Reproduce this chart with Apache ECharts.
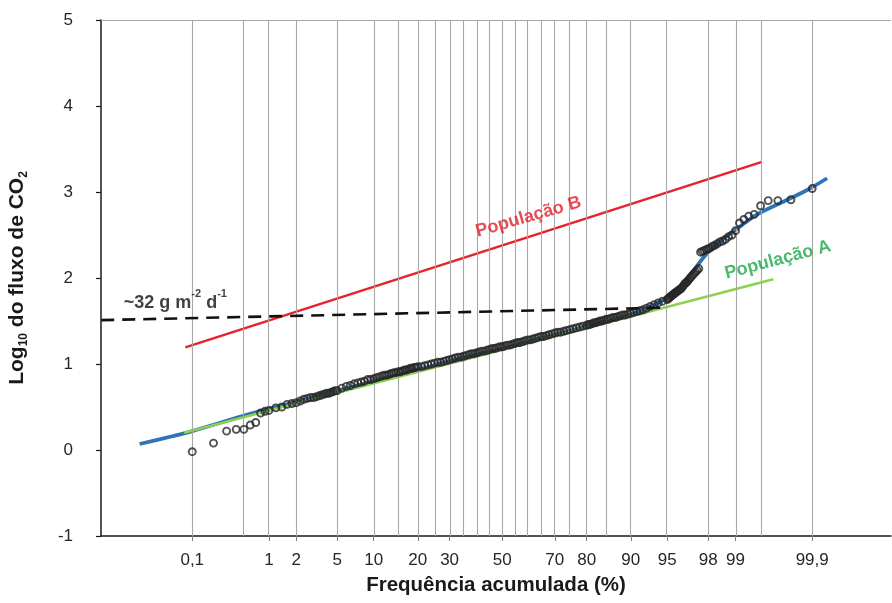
<!DOCTYPE html>
<html><head><meta charset="utf-8">
<script src="https://cdn.jsdelivr.net/npm/echarts@6/dist/echarts.min.js"></script>
<style>html,body{margin:0;padding:0;background:#fff}#c{width:892px;height:603px}</style>
</head><body><div id="c"></div>
<script>
// ---- data ----
const tickPct = [0.1,1,2,5,10,20,30,50,70,80,90,95,98,99,99.9];
const tickText = ['0,1','1','2','5','10','20','30','50','70','80','90','95','98','99','99,9'];
const gridPct = [0.1,0.5,1,2,5,10,15,20,25,30,35,40,45,50,55,60,65,70,75,80,85,90,95,98,99,99.5,99.9];

const obsPct = [
 0.1,0.2,0.3,0.4,0.5,0.6,0.7,0.8,0.9,1.0,
 1.2,1.4,1.6,1.8,2.0,2.2,2.4,2.6,2.8,3.0,3.2,3.4,3.6,3.8,4.0,4.2,4.4,4.6,4.8,5.0,
 5.5,6,6.5,7,7.5,8,8.5,9,9.5,10,10.5,11,11.5,12,12.5,13,13.5,14,14.5,15,15.5,16,16.5,17,17.5,18,18.5,19,19.5,20,
 21,22,23,24,25,26,27,28,29,30,31,32,33,34,35,36,37,38,39,40,
 41,42,43,44,45,46,47,48,49,50,51,52,53,54,55,56,57,58,59,60,
 61,62,63,64,65,66,67,68,69,70,71,72,73,74,75,76,77,78,79,80,
 80.5,81,81.5,82,82.5,83,83.5,84,84.5,85,85.5,86,86.5,87,87.5,88,88.5,89,89.5,90,
 90.5,91,91.5,92,92.5,93,93.5,94,94.5,95,
 95.1,95.2,95.3,95.4,95.5,95.6,95.7,95.8,95.9,96.0,
 96.1,96.2,96.3,96.4,96.5,96.6,96.7,96.8,96.9,97.0,
 97.1,97.2,97.3,97.4,97.5,97.6,97.7,97.8,97.9,98.0,
 98.1,98.2,98.3,98.4,98.5,98.6,98.7,98.8,98.9,99.0,
 99.1,99.2,99.3,99.4,99.5,99.6,99.7,99.8,99.9
];
const obsLog = [
 -0.02,0.08,0.22,0.24,0.24,0.29,0.32,0.43,0.45,0.46,
 0.49,0.50,0.53,0.54,0.55,0.57,0.59,0.60,0.61,0.61,0.62,0.63,0.64,0.65,0.66,0.66,0.67,0.68,0.69,0.69,
 0.72,0.74,0.75,0.77,0.78,0.79,0.80,0.82,0.82,0.83,0.84,0.85,0.86,0.87,0.87,0.88,0.89,0.90,0.90,0.91,0.91,0.92,0.93,0.93,0.94,0.95,0.95,0.96,0.96,0.97,
 0.97,0.98,0.99,1.00,1.01,1.02,1.02,1.03,1.04,1.05,1.06,1.07,1.08,1.08,1.09,1.10,1.11,1.12,1.12,1.13,
 1.14,1.15,1.15,1.16,1.17,1.18,1.18,1.19,1.20,1.20,1.21,1.22,1.22,1.23,1.24,1.25,1.25,1.26,1.27,1.28,
 1.28,1.29,1.30,1.31,1.32,1.32,1.33,1.34,1.35,1.36,1.37,1.37,1.38,1.39,1.40,1.41,1.42,1.43,1.44,1.45,
 1.46,1.46,1.47,1.48,1.48,1.49,1.50,1.50,1.51,1.52,1.52,1.53,1.54,1.54,1.55,1.56,1.57,1.57,1.58,1.59,
 1.60,1.61,1.62,1.63,1.65,1.67,1.69,1.71,1.73,1.75,
 1.76,1.77,1.78,1.79,1.80,1.81,1.82,1.83,1.84,1.85,
 1.86,1.87,1.88,1.90,1.92,1.94,1.95,1.97,1.99,2.01,
 2.03,2.05,2.07,2.09,2.11,2.30,2.31,2.32,2.33,2.34,
 2.35,2.37,2.38,2.40,2.42,2.43,2.45,2.48,2.50,2.55,
 2.64,2.68,2.72,2.74,2.84,2.90,2.90,2.91,3.04
];

const fitPct = [0.015,0.05,0.1,0.6,2,10,30,50,70,80,90,92,94,95,96,96.7,97.5,98.2,99,99.45,99.75,99.88,99.94];
const fitLog = [0.07,0.16,0.22,0.42,0.56,0.80,1.03,1.18,1.34,1.44,1.575,1.63,1.71,1.77,1.86,1.96,2.17,2.35,2.56,2.74,2.89,3.02,3.16];

const popAPct = [0.076, 99.656];
const popALog = [0.20, 1.985];
const popBPct = [0.079, 99.52];
const popBLog = [1.194, 3.35];
const refPct = [0.0032, 94.5];
const refLog = [1.51, 1.655];

// ---- probability scale (normal quantile) ----
function probit(p){
 const a=[-3.969683028665376e+01,2.209460984245205e+02,-2.759285104469687e+02,1.383577518672690e+02,-3.066479806614716e+01,2.506628277459239e+00];
 const b=[-5.447609879822406e+01,1.615858368580409e+02,-1.556989798598866e+02,6.680131188771972e+01,-1.328068155288572e+01];
 const c=[-7.784894002430293e-03,-3.223964580411365e-01,-2.400758277161838e+00,-2.549732539343734e+00,4.374664141464968e+00,2.938163982698783e+00];
 const d=[7.784695709041462e-03,3.224671290700398e-01,2.445134137142996e+00,3.754408661907416e+00];
 const pl=0.02425, ph=1-pl; let q,r;
 if(p<pl){q=Math.sqrt(-2*Math.log(p));return (((((c[0]*q+c[1])*q+c[2])*q+c[3])*q+c[4])*q+c[5])/((((d[0]*q+d[1])*q+d[2])*q+d[3])*q+1);}
 if(p<=ph){q=p-0.5;r=q*q;return (((((a[0]*r+a[1])*r+a[2])*r+a[3])*r+a[4])*r+a[5])*q/(((((b[0]*r+b[1])*r+b[2])*r+b[3])*r+b[4])*r+1);}
 q=Math.sqrt(-2*Math.log(1-p));return -(((((c[0]*q+c[1])*q+c[2])*q+c[3])*q+c[4])*q+c[5])/((((d[0]*q+d[1])*q+d[2])*q+d[3])*q+1);
}
const zp = pct => probit(pct/100);
const zip = (P,V) => P.map((p,i)=>[zp(p), V[i]]);

const FONT = "'Liberation Sans', Arial, sans-serif";
const tickZ = tickPct.map(zp);
function labelFor(v){
  let best=0, bd=1e9;
  tickZ.forEach((z,i)=>{const d=Math.abs(z-v); if(d<bd){bd=d;best=i;}});
  return tickText[best];
}

const chart = echarts.init(document.getElementById('c'), null, {renderer:'canvas'});
chart.setOption({
  animation:false,
  backgroundColor:'#fff',
  textStyle:{fontFamily:FONT},
  grid:{left:101, right:1, top:20, bottom:67, containLabel:false, outerBoundsMode:'none'},
  xAxis:{
    type:'value', min:-4, max:3.876,
    axisLine:{show:true, onZero:false, lineStyle:{color:'#1a1a1a', width:1.5}},
    axisTick:{show:true, customValues:tickZ, length:5, lineStyle:{color:'#7f7f7f'}},
    axisLabel:{customValues:tickZ, formatter:v=>labelFor(v), color:'#262626', fontSize:17, margin:16, fontFamily:FONT},
    splitLine:{show:false},
    name:'Frequência acumulada (%)', nameLocation:'middle', nameGap:39,
    nameTextStyle:{fontWeight:'bold', fontSize:20.5, color:'#1a1a1a', fontFamily:FONT}
  },
  yAxis:{
    type:'value', min:-1, max:5, interval:1,
    axisLine:{show:true, onZero:false, lineStyle:{color:'#1a1a1a', width:1.5}},
    axisTick:{show:true, length:5, lineStyle:{color:'#1a1a1a', width:1.2}},
    axisLabel:{fontSize:17, margin:28, color:'#262626', fontFamily:FONT},
    splitLine:{show:false},
    name:'{a|Log}{s|10}{a| do fluxo de CO}{s|2}', nameLocation:'middle', nameGap:70, nameRotate:90,
    nameTextStyle:{
      rich:{
        a:{fontSize:21, fontWeight:'bold', color:'#1a1a1a', fontFamily:FONT, lineHeight:24, verticalAlign:'top'},
        s:{fontSize:12, fontWeight:'bold', color:'#1a1a1a', fontFamily:FONT, lineHeight:13, padding:[11,0,0,0], verticalAlign:'top'}
      }
    }
  },
  series:[
    {type:'scatter', data:[], silent:true, z:1,
     markLine:{silent:true, symbol:['none','none'], animation:false, label:{show:false},
       lineStyle:{color:'#a8a8a8', width:1.1, type:'solid'},
       data: gridPct.map(p=>({xAxis:zp(p)})).concat([{yAxis:5}])}
    },
    {type:'line', name:'ajuste', data:zip(fitPct,fitLog), smooth:0.35, showSymbol:false, silent:true, z:3,
     lineStyle:{color:'#2e75b6', width:3.8}},
    {type:'line', name:'População A', data:zip(popAPct,popALog), showSymbol:false, silent:true, z:4,
     lineStyle:{color:'#8fd14f', width:2.5}},
    {type:'line', name:'População B', data:zip(popBPct,popBLog), showSymbol:false, silent:true, z:4,
     lineStyle:{color:'#e8222a', width:2.5}},
    {type:'scatter', name:'obs', data:zip(obsPct,obsLog), symbol:'circle', symbolSize:7, silent:true, z:5,
     itemStyle:{color:'rgba(255,255,255,0)', borderColor:'#262626', borderWidth:1.9}},
    {type:'line', name:'ref', data:zip(refPct,refLog), showSymbol:false, silent:true, z:6, clip:false,
     lineStyle:{color:'#111', width:2.6, type:[13,8]}},
    {type:'scatter', data:[[zp(60.3),2.71]], symbolSize:0, silent:true, z:7,
     label:{show:true, position:'inside', formatter:'População B', rotate:16, color:'#e01f28',
       fontSize:18, fontWeight:'bold', fontFamily:FONT}},
    {type:'scatter', data:[[zp(99.70),2.21]], symbolSize:0, silent:true, z:7,
     label:{show:true, position:'inside', formatter:'População A', rotate:15, color:'#1fa84a',
       fontSize:18, fontWeight:'bold', fontFamily:FONT}},
    {type:'scatter', data:[[zp(0.056),1.76]], symbolSize:0, silent:true, z:7,
     label:{show:true, position:'inside', formatter:'{a|~32 g m}{s|-2}{a| d}{s|-1}',
       rich:{
         a:{fontSize:18, fontWeight:'bold', color:'#111', fontFamily:FONT, lineHeight:20, padding:[5,0,0,0], verticalAlign:'top'},
         s:{fontSize:11, fontWeight:'bold', color:'#111', fontFamily:FONT, lineHeight:12, verticalAlign:'top'}
       }}}
  ]
});
</script>
</body></html>
